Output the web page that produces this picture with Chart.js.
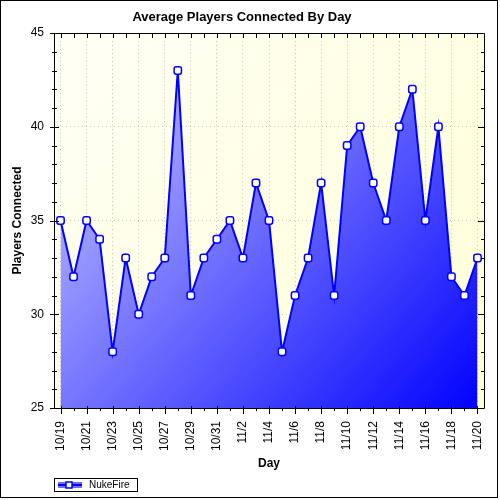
<!DOCTYPE html>
<html>
<head>
<meta charset="utf-8">
<title>Average Players Connected By Day</title>
<script src="https://cdn.jsdelivr.net/npm/chart.js"></script>
<style>
  html, body { margin: 0; padding: 0; background: #fff; }
  canvas { display: block; }
</style>
</head>
<body>
<canvas id="chart" width="500" height="500"></canvas>
<script>
// one entry per day
const days = ['10/19', '10/20', '10/21', '10/22', '10/23', '10/24', '10/25', '10/26', '10/27', '10/28',
  '10/29', '10/30', '10/31', '11/1', '11/2', '11/3', '11/4', '11/5', '11/6', '11/7', '11/8', '11/9',
  '11/10', '11/11', '11/12', '11/13', '11/14', '11/15', '11/16', '11/17', '11/18', '11/19', '11/20'];
// average players connected (NukeFire)
const players = [35, 32, 35, 34, 28, 33, 30, 32, 33, 43, 31, 33, 34, 35, 33, 37, 35, 28, 31, 33, 37, 31,
  39, 40, 37, 35, 40, 42, 35, 40, 32, 31, 33];
// labelled values on the y axis
const yTicks = [25, 30, 35, 40, 45];

const FONT = '"Liberation Sans", Arial, sans-serif';
const gridColor = '#c8c8b4';

function blueFill(c) {
    const a = c.chart.chartArea;
    if (!a) return '#8080ff';
    const g = c.chart.ctx.createLinearGradient(a.left, a.top, a.right, a.bottom);
    g.addColorStop(0, '#d4d4ff');
    g.addColorStop(1, '#0000ff');
    return g;
}

// background, frame, tick marks and legend box
const frame = {
    id: 'frame',
    beforeDraw(chart) {
        const { ctx, chartArea: a } = chart;
        ctx.save();
        ctx.fillStyle = '#fff';
        ctx.fillRect(0, 0, chart.width, chart.height);
        const g = ctx.createLinearGradient(a.left, a.top, a.right, a.bottom);
        g.addColorStop(0, '#fffff6');
        g.addColorStop(1, '#ffffd6');
        ctx.fillStyle = g;
        ctx.fillRect(a.left, a.top, a.right - a.left, a.bottom - a.top);
        ctx.restore();
    },
    afterDraw(chart) {
        const { ctx, chartArea: a, scales: { x, y } } = chart;
        ctx.save();
        ctx.strokeStyle = '#000';
        ctx.lineWidth = 1;
        ctx.beginPath();
        ctx.rect(a.left + 0.5, a.top + 0.5, a.right - a.left, a.bottom - a.top);
        days.forEach((d, i) => {
            const px = Math.round(x.getPixelForValue(i)) + 0.5;
            const major = i % 2 === 0;
            ctx.moveTo(px, a.bottom - (major ? 2 : 0));
            ctx.lineTo(px, a.bottom + (major ? 6 : 3));
            ctx.moveTo(px, a.top);
            ctx.lineTo(px, a.top + 5);
        });
        for (let v = y.min; v <= y.max; v++) {
            const py = Math.round(y.getPixelForValue(v)) + 0.5;
            const major = yTicks.includes(v);
            ctx.moveTo(a.left - (major ? 4 : 2), py);
            ctx.lineTo(a.left + (major ? 5 : 3), py);
            ctx.moveTo(a.right, py);
            ctx.lineTo(a.right - (major ? 6 : 3), py);
        }
        ctx.stroke();
        ctx.strokeRect(0.5, 0.5, chart.width - 3, chart.height - 3);

        // legend
        const ds = chart.data.datasets[0];
        const lx = a.left, ly = 478;
        ctx.strokeRect(lx + 0.5, ly + 0.5, 83, 13);
        ctx.fillStyle = '#7070ff';
        ctx.fillRect(lx + 4, ly + 4, 24, 6);
        ctx.strokeStyle = '#0000ff';
        ctx.lineWidth = 2;
        ctx.beginPath();
        ctx.moveTo(lx + 4, ly + 7);
        ctx.lineTo(lx + 28, ly + 7);
        ctx.stroke();
        ctx.fillStyle = '#fff';
        ctx.lineWidth = 1.5;
        ctx.fillRect(lx + 12, ly + 4, 6, 6);
        ctx.strokeRect(lx + 12, ly + 4, 6, 6);
        ctx.fillStyle = '#000';
        ctx.font = '10px ' + FONT;
        ctx.textBaseline = 'middle';
        ctx.fillText(ds.label, lx + 35, ly + 7.5);
        ctx.restore();
    }
};

new Chart(document.getElementById('chart'), {
    type: 'line',
    data: {
        labels: days,
        datasets: [{
            label: 'NukeFire',
            data: players,
            borderColor: '#0000ff',
            borderWidth: 2,
            backgroundColor: blueFill,
            fill: 'start',
            tension: 0,
            pointStyle: 'rectRounded',
            pointRadius: 4.3,
            pointBackgroundColor: '#fff',
            pointBorderColor: '#0000ff',
            pointBorderWidth: 1.5
        }]
    },
    options: {
        responsive: false,
        animation: false,
        layout: { padding: { top: 0, right: 16, bottom: 0, left: 0 } },
        plugins: {
            legend: { display: false },
            tooltip: { enabled: false },
            title: {
                display: true,
                text: 'Average Players Connected By Day',
                color: '#000',
                font: { family: FONT, size: 13, weight: 'bold' },
                padding: { top: 10, bottom: 7.4 }
            }
        },
        scales: {
            x: {
                offset: true,
                afterFit: (s) => {
                    s.height = 92;
                    s.paddingLeft = 0;
                    s.paddingRight = 0;
                },
                grid: {
                    offset: false,
                    drawTicks: false,
                    color: (c) => c.index % 2 === 0 ? gridColor : 'rgba(0,0,0,0)'
                },
                border: { display: false, dash: [1, 3] },
                ticks: {
                    autoSkip: false,
                    minRotation: 90,
                    maxRotation: 90,
                    padding: 13,
                    color: '#000',
                    font: { family: FONT, size: 12 },
                    callback: (v, i) => i % 2 === 0 ? days[i] : ''
                },
                title: {
                    display: true,
                    text: 'Day',
                    color: '#000',
                    font: { family: FONT, size: 12, weight: 'bold' },
                    padding: { top: 0, bottom: 29 }
                }
            },
            y: {
                min: 25,
                max: 45,
                afterFit: (s) => {
                    s.width = 54;
                    s.paddingTop = 0;
                    s.paddingBottom = 0;
                },
                grid: {
                    drawTicks: false,
                    color: (c) => (c.tick && c.tick.value % 5 === 0) ? gridColor : 'rgba(0,0,0,0)'
                },
                border: { display: false, dash: [1, 3] },
                ticks: {
                    stepSize: 1,
                    padding: 10,
                    color: '#000',
                    font: { family: FONT, size: 12 },
                    callback: (v) => yTicks.includes(v) ? v : ''
                },
                title: {
                    display: true,
                    text: 'Players Connected',
                    color: '#000',
                    font: { family: FONT, size: 12, weight: 'bold' },
                    padding: { top: 10, bottom: 0 }
                }
            }
        }
    },
    plugins: [frame]
});
</script>
</body>
</html>
